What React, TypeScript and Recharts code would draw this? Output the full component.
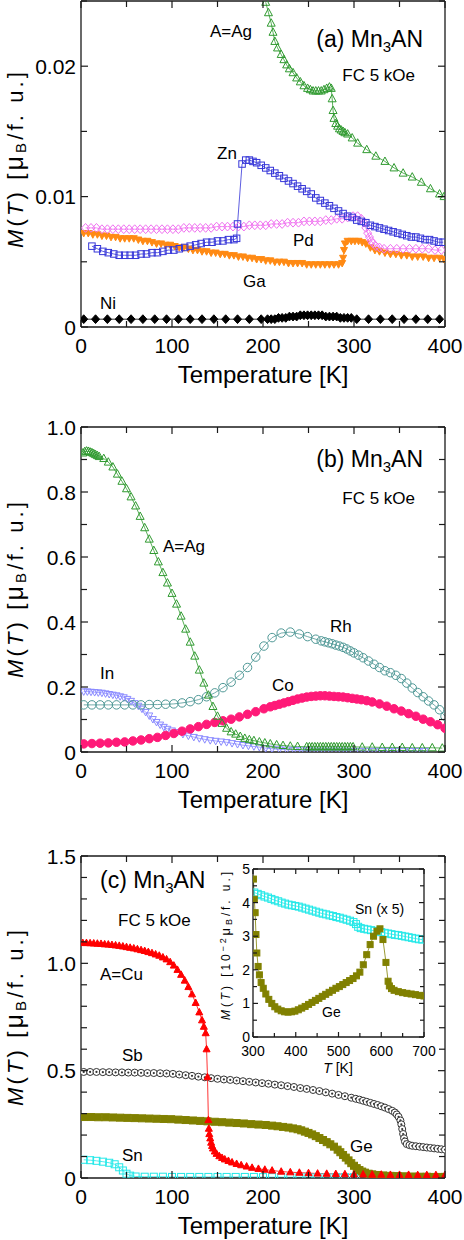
import React from "react";
import { LineChart, Line, XAxis, YAxis } from "recharts";

type Pt = [number, number];
type Shape =
  | "triUp" | "triUpFill" | "triDown" | "triDownFill" | "sq" | "sqFill"
  | "dia" | "diaFill" | "circ" | "circFill" | "circDot";

// ---------- panel (a): Mn3AN, FC 5 kOe, small moments
const agA: Pt[] = [
  [203, 0.0249], [206, 0.0241], [209, 0.0233], [211, 0.0226], [213, 0.0219], [216, 0.0214],
  [220, 0.0209], [223, 0.0205], [226, 0.0201], [229, 0.0198], [233, 0.0195], [237, 0.0191],
  [241, 0.0188], [245, 0.0185], [249, 0.0183], [252, 0.0182], [255, 0.0181], [258, 0.0181],
  [261, 0.0181], [264, 0.0181], [267, 0.0182], [270, 0.0183], [273, 0.0184], [275, 0.0183],
  [276, 0.0175], [277, 0.0166], [278, 0.016], [280, 0.0156], [282, 0.0154], [284, 0.0152],
  [286, 0.0151], [288, 0.015], [290, 0.0149], [293, 0.0148], [298, 0.0145], [304, 0.0141],
  [314, 0.0136], [324, 0.0131], [334, 0.0127], [344, 0.0122], [354, 0.0118], [364, 0.0115],
  [374, 0.0111], [384, 0.0106], [394, 0.0102], [399, 0.01],
];
const znA: Pt[] = [
  [12, 0.0062], [18, 0.006], [24, 0.0058], [30, 0.0057], [36, 0.0056], [42, 0.0055], [48, 0.0055],
  [54, 0.0055], [60, 0.0055], [66, 0.0056], [72, 0.0056], [78, 0.0057], [84, 0.0057], [90, 0.0058],
  [96, 0.0059], [102, 0.0059], [108, 0.006], [114, 0.0061], [120, 0.0062], [126, 0.0063],
  [132, 0.0064], [138, 0.0065], [144, 0.0065], [150, 0.0066], [156, 0.0066], [162, 0.0067],
  [168, 0.0067], [171, 0.0068], [172, 0.0079], [177, 0.0125], [181, 0.0128], [185, 0.0128],
  [189, 0.0127], [193, 0.0126], [198, 0.0124], [203, 0.0122], [208, 0.012], [213, 0.0118],
  [218, 0.0116], [223, 0.0114], [228, 0.0112], [233, 0.011], [238, 0.0108], [243, 0.0106],
  [248, 0.0104], [253, 0.0102], [258, 0.0099], [263, 0.0097], [268, 0.0095], [273, 0.0093],
  [278, 0.0091], [283, 0.0089], [288, 0.0087], [293, 0.0085], [298, 0.0084], [303, 0.0082],
  [308, 0.0081], [313, 0.008], [318, 0.0078], [323, 0.0077], [328, 0.0076], [333, 0.0075],
  [338, 0.0074], [343, 0.0073], [348, 0.0072], [353, 0.0071], [358, 0.007], [363, 0.0069],
  [368, 0.0069], [373, 0.0068], [378, 0.0067], [383, 0.0067], [388, 0.0066], [393, 0.0065],
  [398, 0.0065],
];
const pdA: Pt[] = [
  [5, 0.0076], [11, 0.0076], [17, 0.0076], [23, 0.0075], [29, 0.0075], [35, 0.0075], [41, 0.0075],
  [47, 0.0075], [53, 0.0075], [59, 0.0075], [65, 0.0075], [71, 0.0075], [77, 0.0075], [83, 0.0075],
  [89, 0.0075], [95, 0.0075], [101, 0.0075], [107, 0.0075], [113, 0.0076], [119, 0.0076],
  [125, 0.0076], [131, 0.0076], [137, 0.0076], [143, 0.0076], [149, 0.0077], [155, 0.0077],
  [161, 0.0077], [167, 0.0077], [173, 0.0077], [179, 0.0077], [185, 0.0078], [191, 0.0078],
  [197, 0.0078], [203, 0.0078], [209, 0.0079], [215, 0.0079], [221, 0.0079], [227, 0.008],
  [233, 0.008], [239, 0.008], [245, 0.0081], [251, 0.0081], [257, 0.0081], [263, 0.0081],
  [269, 0.0082], [275, 0.0082], [281, 0.0083], [287, 0.0083], [293, 0.0084], [299, 0.0085],
  [304, 0.0085], [308, 0.0083], [311, 0.008], [313, 0.0076], [315, 0.0072], [317, 0.0069],
  [319, 0.0066], [321, 0.0064], [324, 0.0062], [328, 0.0061], [333, 0.006], [340, 0.006],
  [347, 0.006], [354, 0.006], [361, 0.006], [368, 0.006], [375, 0.006], [382, 0.006],
  [389, 0.0059], [396, 0.0059],
];
const gaA: Pt[] = [
  [3, 0.0072], [8, 0.0072], [13, 0.0071], [18, 0.0071], [23, 0.007], [28, 0.007], [33, 0.0069],
  [38, 0.0069], [43, 0.0068], [48, 0.0068], [53, 0.0068], [58, 0.0068], [63, 0.0067], [68, 0.0066],
  [73, 0.0066], [78, 0.0065], [83, 0.0064], [88, 0.0064], [93, 0.0063], [98, 0.0063], [103, 0.0062],
  [108, 0.0061], [113, 0.0061], [118, 0.006], [123, 0.0059], [128, 0.0059], [133, 0.0058],
  [138, 0.0058], [143, 0.0057], [148, 0.0057], [153, 0.0056], [158, 0.0056], [163, 0.0055],
  [168, 0.0055], [173, 0.0054], [178, 0.0054], [183, 0.0053], [188, 0.0053], [193, 0.0052],
  [198, 0.0052], [203, 0.0051], [208, 0.0051], [213, 0.005], [218, 0.005], [223, 0.005],
  [228, 0.0049], [233, 0.0049], [238, 0.0049], [243, 0.0049], [248, 0.0048], [253, 0.0048],
  [258, 0.0048], [263, 0.0048], [268, 0.0048], [273, 0.0048], [278, 0.0048], [283, 0.0048],
  [287, 0.0049], [288, 0.0053], [289, 0.0059], [290, 0.0064], [293, 0.0066], [297, 0.0066],
  [301, 0.0066], [305, 0.0066], [309, 0.0065], [313, 0.0064], [318, 0.0061], [323, 0.0059],
  [328, 0.0058], [334, 0.0057], [340, 0.0056], [346, 0.0056], [352, 0.0055], [358, 0.0055],
  [364, 0.0054], [370, 0.0054], [376, 0.0054], [382, 0.0053], [388, 0.0053], [394, 0.0053],
  [399, 0.0052],
];
const niA: Pt[] = [
  [3, 0.0006], [16, 0.0006], [29, 0.0006], [42, 0.0006], [55, 0.0006], [68, 0.0006], [81, 0.0006],
  [94, 0.0006], [107, 0.0006], [120, 0.0006], [133, 0.0006], [146, 0.0006], [159, 0.0006],
  [172, 0.0006], [185, 0.0006], [198, 0.0006], [205, 0.0006], [209, 0.0006], [213, 0.0006],
  [217, 0.0007], [221, 0.0007], [225, 0.0007], [229, 0.0008], [233, 0.0008], [237, 0.0008],
  [241, 0.0009], [245, 0.0009], [249, 0.0009], [253, 0.0009], [257, 0.0009], [261, 0.0009],
  [265, 0.0009], [269, 0.0008], [273, 0.0008], [277, 0.0008], [281, 0.0008], [285, 0.0007],
  [289, 0.0007], [293, 0.0007], [297, 0.0007], [303, 0.0006], [316, 0.0006], [329, 0.0006],
  [342, 0.0006], [355, 0.0006], [368, 0.0006], [381, 0.0006], [394, 0.0006],
];

// ---------- panel (b)
const agB: Pt[] = [
  [2, 0.92], [4, 0.924], [6, 0.926], [8, 0.925], [10, 0.923], [12, 0.921], [14, 0.918], [16, 0.915],
  [18, 0.912], [20, 0.909], [25, 0.903], [30, 0.892], [35, 0.877], [40, 0.855], [45, 0.833],
  [50, 0.81], [55, 0.785], [60, 0.757], [65, 0.725], [70, 0.69], [75, 0.655], [80, 0.62], [85, 0.585],
  [90, 0.552], [95, 0.52], [100, 0.488], [105, 0.455], [110, 0.418], [115, 0.378], [120, 0.338],
  [125, 0.295], [130, 0.252], [135, 0.212], [140, 0.175], [145, 0.14], [150, 0.11], [155, 0.088],
  [160, 0.073], [165, 0.062], [170, 0.055], [175, 0.048], [180, 0.042], [185, 0.038], [190, 0.035],
  [196, 0.031], [202, 0.028], [208, 0.025], [215, 0.022], [222, 0.02], [230, 0.018], [238, 0.017],
  [248, 0.016], [251, 0.016], [254, 0.016], [257, 0.016], [260, 0.016], [263, 0.016], [266, 0.016],
  [269, 0.016], [272, 0.016], [275, 0.016], [278, 0.016], [281, 0.016], [284, 0.016], [287, 0.016],
  [290, 0.016], [293, 0.016], [296, 0.016], [299, 0.016], [309, 0.015], [320, 0.015], [331, 0.014],
  [342, 0.014], [353, 0.014], [364, 0.013], [375, 0.013], [386, 0.013], [397, 0.012],
];
const rhB: Pt[] = [
  [3, 0.145], [12, 0.145], [21, 0.145], [30, 0.145], [39, 0.145], [48, 0.145], [57, 0.145],
  [66, 0.145], [75, 0.146], [84, 0.146], [93, 0.147], [102, 0.148], [111, 0.151], [120, 0.155],
  [129, 0.161], [138, 0.17], [147, 0.182], [156, 0.198], [165, 0.215], [174, 0.236], [183, 0.26],
  [192, 0.292], [201, 0.326], [210, 0.352], [220, 0.366], [230, 0.369], [240, 0.363], [249, 0.355],
  [258, 0.347], [264, 0.342], [268, 0.339], [272, 0.336], [276, 0.333], [280, 0.329], [284, 0.326],
  [288, 0.322], [292, 0.317], [296, 0.311], [300, 0.305], [305, 0.298], [310, 0.29], [316, 0.28],
  [322, 0.27], [328, 0.26], [334, 0.25], [340, 0.244], [346, 0.236], [352, 0.226], [358, 0.212],
  [364, 0.197], [370, 0.183], [376, 0.17], [382, 0.157], [388, 0.145], [394, 0.13], [400, 0.11],
];
const coB: Pt[] = [
  [3, 0.025], [12, 0.026], [21, 0.027], [30, 0.028], [39, 0.03], [48, 0.031], [57, 0.034],
  [66, 0.037], [75, 0.041], [84, 0.045], [93, 0.051], [102, 0.057], [111, 0.064], [120, 0.071],
  [129, 0.078], [138, 0.085], [147, 0.091], [156, 0.096], [165, 0.101], [174, 0.108], [183, 0.116],
  [192, 0.124], [201, 0.133], [208, 0.139], [213, 0.143], [218, 0.147], [223, 0.151], [228, 0.155],
  [233, 0.159], [238, 0.163], [243, 0.166], [248, 0.169], [253, 0.171], [258, 0.172], [263, 0.173],
  [268, 0.173], [273, 0.172], [278, 0.171], [283, 0.17], [288, 0.169], [293, 0.167], [298, 0.165],
  [303, 0.163], [308, 0.161], [314, 0.158], [320, 0.154], [328, 0.148], [336, 0.141], [344, 0.133],
  [352, 0.126], [360, 0.118], [368, 0.11], [376, 0.101], [384, 0.093], [392, 0.084], [400, 0.073],
];
const inB: Pt[] = [
  [3, 0.186], [7, 0.186], [11, 0.185], [15, 0.184], [19, 0.183], [23, 0.182], [27, 0.18], [31, 0.178],
  [35, 0.176], [39, 0.174], [43, 0.171], [47, 0.168], [51, 0.163], [55, 0.157], [59, 0.15],
  [63, 0.142], [67, 0.133], [71, 0.123], [75, 0.112], [79, 0.101], [83, 0.092], [87, 0.084],
  [91, 0.077], [95, 0.071], [100, 0.066], [106, 0.061], [112, 0.055], [118, 0.05], [124, 0.046],
  [130, 0.042], [136, 0.039], [142, 0.036], [148, 0.034], [154, 0.032], [160, 0.03], [166, 0.027],
  [172, 0.024], [178, 0.021], [184, 0.019], [190, 0.017], [196, 0.015], [203, 0.012], [210, 0.01],
  [218, 0.008], [226, 0.007], [234, 0.006], [242, 0.005], [250, 0.005], [258, 0.004], [266, 0.004],
  [274, 0.004], [282, 0.004], [290, 0.004], [298, 0.003], [306, 0.003], [314, 0.003], [322, 0.003],
  [330, 0.003], [338, 0.003], [346, 0.003], [354, 0.003], [362, 0.003], [370, 0.003], [378, 0.003],
];

// ---------- panel (c)
const cuC: Pt[] = [
  [2, 1.095], [6, 1.095], [10, 1.094], [14, 1.093], [18, 1.092], [22, 1.091], [26, 1.089], [30, 1.088],
  [34, 1.086], [38, 1.084], [42, 1.082], [46, 1.079], [50, 1.076], [54, 1.073], [58, 1.07], [62, 1.066],
  [66, 1.062], [70, 1.058], [74, 1.053], [78, 1.048], [82, 1.042], [86, 1.036], [90, 1.028],
  [94, 1.019], [98, 1.006], [102, 0.99], [106, 0.97], [110, 0.947], [114, 0.92], [118, 0.89],
  [122, 0.856], [126, 0.816], [130, 0.772], [133, 0.735], [135, 0.705], [137, 0.675], [138, 0.6],
  [139, 0.47], [140, 0.27], [140.5, 0.23], [141, 0.205], [142, 0.185], [143, 0.165], [144, 0.15],
  [145, 0.138], [147, 0.124], [149, 0.113], [152, 0.102], [155, 0.094], [158, 0.087], [162, 0.08],
  [166, 0.073], [171, 0.066], [176, 0.06], [182, 0.054], [188, 0.048], [195, 0.043], [202, 0.039],
  [210, 0.035], [220, 0.03], [230, 0.027], [240, 0.025], [250, 0.023], [260, 0.021], [270, 0.02],
  [280, 0.019], [290, 0.018], [300, 0.017], [310, 0.017], [320, 0.016], [330, 0.016], [340, 0.015],
  [350, 0.015], [360, 0.015], [370, 0.014], [380, 0.014], [390, 0.014], [400, 0.014],
];
const sbC: Pt[] = [
  [3, 0.494], [10, 0.494], [17, 0.494], [24, 0.493], [31, 0.493], [38, 0.492], [45, 0.492],
  [52, 0.491], [59, 0.491], [66, 0.49], [73, 0.489], [80, 0.489], [87, 0.488], [94, 0.487],
  [101, 0.485], [108, 0.482], [115, 0.479], [122, 0.476], [129, 0.472], [136, 0.469], [143, 0.465],
  [150, 0.462], [157, 0.459], [164, 0.457], [171, 0.454], [178, 0.451], [185, 0.448], [192, 0.445],
  [199, 0.442], [206, 0.439], [213, 0.435], [220, 0.432], [227, 0.428], [234, 0.424], [241, 0.419],
  [248, 0.415], [255, 0.41], [262, 0.405], [269, 0.399], [276, 0.393], [283, 0.387], [290, 0.381],
  [297, 0.374], [302, 0.369], [306, 0.365], [310, 0.36], [314, 0.355], [318, 0.35], [322, 0.345],
  [326, 0.34], [330, 0.334], [334, 0.328], [338, 0.321], [342, 0.313], [345, 0.305], [347, 0.296],
  [349, 0.285], [351, 0.268], [352, 0.25], [353, 0.228], [354, 0.205], [355, 0.185], [356, 0.17],
  [358, 0.158], [361, 0.153], [364, 0.15], [368, 0.148], [372, 0.146], [376, 0.144], [380, 0.142],
  [384, 0.14], [388, 0.138], [392, 0.136], [396, 0.134], [400, 0.132],
];
const geC: Pt[] = [
  [3, 0.284], [11, 0.284], [19, 0.283], [27, 0.283], [35, 0.282], [43, 0.281], [51, 0.28], [59, 0.279],
  [67, 0.278], [75, 0.277], [83, 0.276], [91, 0.275], [99, 0.274], [107, 0.272], [115, 0.27],
  [123, 0.268], [131, 0.266], [139, 0.264], [147, 0.262], [155, 0.26], [163, 0.258], [171, 0.256],
  [179, 0.254], [187, 0.251], [195, 0.249], [203, 0.247], [210, 0.244], [216, 0.241], [222, 0.238],
  [228, 0.235], [233, 0.231], [238, 0.227], [242, 0.222], [246, 0.216], [250, 0.21], [254, 0.203],
  [258, 0.195], [262, 0.186], [266, 0.177], [270, 0.167], [274, 0.157], [278, 0.146], [282, 0.132],
  [285, 0.12], [288, 0.107], [291, 0.095], [294, 0.082], [297, 0.069], [300, 0.057], [303, 0.046],
  [306, 0.037], [309, 0.03], [312, 0.025], [316, 0.02], [320, 0.017], [326, 0.014], [332, 0.012],
  [340, 0.01], [348, 0.009], [356, 0.008], [364, 0.007], [372, 0.006], [380, 0.006], [388, 0.005],
  [396, 0.005], [400, 0.005],
];
const snC: Pt[] = [
  [3, 0.085], [10, 0.083], [17, 0.08], [24, 0.076], [31, 0.071], [37, 0.064], [42, 0.05], [46, 0.035],
  [50, 0.02], [54, 0.011], [60, 0.007], [70, 0.006], [80, 0.006], [90, 0.006], [100, 0.005],
  [110, 0.005], [120, 0.005], [130, 0.005], [140, 0.005], [150, 0.005], [160, 0.005], [170, 0.005],
  [180, 0.005], [190, 0.005], [200, 0.004], [210, 0.004], [220, 0.004], [230, 0.004], [240, 0.004],
  [250, 0.004], [260, 0.004], [270, 0.004], [280, 0.004], [290, 0.004], [300, 0.004], [310, 0.004],
  [320, 0.004], [330, 0.004], [340, 0.004], [350, 0.004], [360, 0.004], [370, 0.004], [380, 0.004],
  [390, 0.004], [400, 0.004],
];

// ---------- inset of (c): high temperature, units 10^-2 muB/f.u.
const geInset: Pt[] = [
  [301, 4.7], [303, 4.1], [305, 3.7], [307, 3.05], [309, 2.5], [312, 2.1], [315, 1.85], [319, 1.62],
  [324, 1.45], [330, 1.28], [337, 1.12], [344, 1.0], [351, 0.9], [358, 0.83], [366, 0.78], [374, 0.75],
  [382, 0.74], [390, 0.75], [398, 0.77], [406, 0.81], [414, 0.86], [422, 0.91], [430, 0.97],
  [438, 1.03], [446, 1.09], [454, 1.15], [462, 1.21], [470, 1.27], [478, 1.33], [486, 1.39],
  [494, 1.45], [502, 1.5], [510, 1.56], [518, 1.62], [526, 1.68], [534, 1.74], [542, 1.82],
  [550, 1.93], [558, 2.15], [566, 2.45], [574, 2.75], [582, 3.0], [590, 3.15], [597, 3.22],
  [604, 2.9], [611, 2.22], [616, 1.66], [619, 1.52], [624, 1.44], [630, 1.39], [640, 1.35],
  [650, 1.32], [660, 1.3], [670, 1.28], [680, 1.26], [690, 1.24], [700, 1.22],
];
const snInset: Pt[] = [
  [303, 4.3], [311, 4.26], [319, 4.22], [327, 4.18], [335, 4.15], [343, 4.11], [351, 4.07], [359, 4.04],
  [367, 4.0], [375, 3.97], [383, 3.94], [391, 3.92], [399, 3.9], [407, 3.88], [415, 3.85], [423, 3.82],
  [431, 3.79], [439, 3.76], [447, 3.73], [455, 3.7], [463, 3.67], [471, 3.65], [479, 3.62],
  [487, 3.6], [495, 3.57], [503, 3.55], [511, 3.52], [519, 3.49], [527, 3.46], [535, 3.42],
  [541, 3.36], [546, 3.28], [552, 3.24], [560, 3.22], [568, 3.2], [576, 3.18], [584, 3.16],
  [592, 3.14], [600, 3.12], [608, 3.1], [616, 3.08], [624, 3.06], [632, 3.04], [640, 3.03],
  [648, 3.01], [656, 2.99], [664, 2.97], [672, 2.95], [680, 2.93], [688, 2.91], [696, 2.9],
];

// ---------- ticks
const xTicksMain = [0, 50, 100, 150, 200, 250, 300, 350, 400];
const xMajorMain = [0, 100, 200, 300, 400];
const yTicksA = [0, 0.005, 0.01, 0.015, 0.02, 0.025];
const yMajorA = [0, 0.01, 0.02];
const yTicksB = [0, 0.1, 0.2, 0.3, 0.4, 0.5, 0.6, 0.7, 0.8, 0.9, 1.0];
const yMajorB = [0, 0.2, 0.4, 0.6, 0.8, 1.0];
const yTicksC = [0, 0.1, 0.2, 0.3, 0.4, 0.5, 0.6, 0.7, 0.8, 0.9, 1.0, 1.1, 1.2, 1.3, 1.4, 1.5];
const yMajorC = [0, 0.5, 1.0, 1.5];
const xTicksInset = [300, 350, 400, 450, 500, 550, 600, 650, 700];
const xMajorInset = [300, 400, 500, 600, 700];
const yTicksInset = [0, 0.5, 1, 1.5, 2, 2.5, 3, 3.5, 4, 4.5, 5];
const yMajorInset = [0, 1, 2, 3, 4, 5];

const FONT = "'Liberation Sans', Arial, Helvetica, sans-serif";
const AX = "#1a1a1a";

type Series = { id: string; pts: Pt[]; color: string; shape: Shape; size: number };

function Marker({ cx, cy, shape, color, size }: { cx?: number; cy?: number; shape: Shape; color: string; size: number }) {
  if (cx == null || cy == null || isNaN(cx) || isNaN(cy)) return null;
  const h = size / 2;
  const sw = 1;
  switch (shape) {
    case "triUp":
    case "triUpFill": {
      const pts = `${cx},${cy - h * 1.1} ${cx - h},${cy + h * 0.75} ${cx + h},${cy + h * 0.75}`;
      return <polygon points={pts} fill={shape === "triUpFill" ? color : "none"} stroke={color} strokeWidth={sw} />;
    }
    case "triDown":
    case "triDownFill": {
      const pts = `${cx},${cy + h * 1.1} ${cx - h},${cy - h * 0.75} ${cx + h},${cy - h * 0.75}`;
      return <polygon points={pts} fill={shape === "triDownFill" ? color : "none"} stroke={color} strokeWidth={sw} />;
    }
    case "sq":
    case "sqFill":
      return <rect x={cx - h} y={cy - h} width={size} height={size} fill={shape === "sqFill" ? color : "none"} stroke={color} strokeWidth={sw} />;
    case "dia":
    case "diaFill": {
      const pts = `${cx},${cy - h * 1.1} ${cx + h},${cy} ${cx},${cy + h * 1.1} ${cx - h},${cy}`;
      return <polygon points={pts} fill={shape === "diaFill" ? color : "none"} stroke={color} strokeWidth={sw} />;
    }
    case "circ":
    case "circFill":
      return <circle cx={cx} cy={cy} r={h} fill={shape === "circFill" ? color : "none"} stroke={color} strokeWidth={sw} />;
    case "circDot":
      return (
        <g>
          <circle cx={cx} cy={cy} r={h} fill="#fff" stroke={color} strokeWidth={sw} />
          <circle cx={cx} cy={cy} r={1.1} fill={color} />
        </g>
      );
  }
  return null;
}

type Side = "bottom" | "top" | "left" | "right";

function makeTick(side: Side, majors: number[], len: number, fmt: (v: number) => string, fs: number, off: number) {
  return (p: any) => {
    const { x, y, payload } = p;
    const v = payload.value as number;
    const major = majors.some((m) => Math.abs(m - v) < 1e-9);
    const L = major ? len : len - 1;
    let line: React.ReactNode = null;
    let label: React.ReactNode = null;
    if (side === "bottom") {
      line = <line x1={x} y1={y} x2={x} y2={y - L} stroke={AX} strokeWidth={1.2} />;
      if (major) label = <text x={x} y={y + off} textAnchor="middle" fontSize={fs} fill="#000" fontFamily={FONT}>{fmt(v)}</text>;
    } else if (side === "top") {
      line = <line x1={x} y1={y} x2={x} y2={y + L} stroke={AX} strokeWidth={1.2} />;
    } else if (side === "left") {
      line = <line x1={x} y1={y} x2={x + L} y2={y} stroke={AX} strokeWidth={1.2} />;
      if (major) label = <text x={x - off} y={y + fs * 0.36} textAnchor="end" fontSize={fs} fill="#000" fontFamily={FONT}>{fmt(v)}</text>;
    } else {
      line = <line x1={x} y1={y} x2={x - L} y2={y} stroke={AX} strokeWidth={1.2} />;
    }
    return <g>{line}{label}</g>;
  };
}

function Panel(props: {
  left: number; top: number; width: number; height: number;
  margin: { top: number; right: number; bottom: number; left: number };
  xDomain: [number, number]; xTicks: number[]; xMajor: number[];
  yDomain: [number, number]; yTicks: number[]; yMajor: number[];
  yFmt: (v: number) => string;
  series: Series[];
  fs: number; len: number; xOff: number; yOff: number;
}) {
  const { left, top, width, height, margin, xDomain, xTicks, xMajor, yDomain, yTicks, yMajor, yFmt, series, fs, len, xOff, yOff } = props;
  const axisLine = { stroke: AX, strokeWidth: 1.3 };
  const xFmt = (v: number) => String(v);
  // axes get 1px of room each (recharts skips a zero-sized axis), margins are 1 less
  return (
    <div style={{ position: "absolute", left, top, width, height }}>
      <LineChart width={width} height={height} margin={margin}>
        <XAxis xAxisId="b" type="number" dataKey="t" domain={xDomain} ticks={xTicks} interval={0}
          allowDataOverflow orientation="bottom" height={1} tickSize={0} tickMargin={0}
          tickLine={false} axisLine={axisLine} tick={makeTick("bottom", xMajor, len, xFmt, fs, xOff)} />
        <XAxis xAxisId="t" type="number" dataKey="t" domain={xDomain} ticks={xTicks} interval={0}
          allowDataOverflow orientation="top" height={1} tickSize={0} tickMargin={0}
          tickLine={false} axisLine={axisLine} tick={makeTick("top", xMajor, len, xFmt, fs, xOff)} />
        <YAxis yAxisId="l" type="number" domain={yDomain} ticks={yTicks} interval={0}
          allowDataOverflow orientation="left" width={1} tickSize={0} tickMargin={0}
          tickLine={false} axisLine={axisLine} tick={makeTick("left", yMajor, len, yFmt, fs, yOff)} />
        <YAxis yAxisId="r" type="number" domain={yDomain} ticks={yTicks} interval={0}
          allowDataOverflow orientation="right" width={1} tickSize={0} tickMargin={0}
          tickLine={false} axisLine={axisLine} tick={makeTick("right", yMajor, len, yFmt, fs, yOff)} />
        {series.map((s) => (
          <Line
            key={s.id}
            xAxisId="b"
            yAxisId="l"
            type="linear"
            data={s.pts.map(([t, m]) => ({ t, m }))}
            dataKey="m"
            stroke={s.color}
            strokeWidth={0.8}
            isAnimationActive={false}
            activeDot={false}
            dot={(p: any) => (
              <Marker key={`${s.id}-${p.index}`} cx={p.cx} cy={p.cy} shape={s.shape} color={s.color} size={s.size} />
            )}
          />
        ))}
      </LineChart>
    </div>
  );
}

function Mn3AN({ x, y, tag, anchor }: { x: number; y: number; tag: string; anchor: "start" | "end" }) {
  return (
    <text x={x} y={y} fontSize={23} textAnchor={anchor}>
      {tag} Mn<tspan dy={5} fontSize={15}>3</tspan><tspan dy={-5}>AN</tspan>
    </text>
  );
}

function YTitle({ x, y }: { x: number; y: number }) {
  return (
    <text transform={`translate(${x},${y}) rotate(-90)`} textAnchor="middle" fontSize={22} textLength={176} lengthAdjust="spacing">
      <tspan fontStyle="italic">M</tspan>(<tspan fontStyle="italic">T</tspan>) [<tspan fontSize={25}>μ</tspan>
      <tspan fontSize={15} dy={3}>B</tspan><tspan dy={-3}>/f. u.]</tspan>
    </text>
  );
}

const fmtA = (v: number) => (v === 0 ? "0" : v.toFixed(2));
const fmt1 = (v: number) => (v === 0 ? "0" : v.toFixed(1));
const fmt0 = (v: number) => String(v);

export default function App() {
  const panelA: Series[] = [
    { id: "Ni", pts: niA, color: "#000000", shape: "diaFill", size: 8 },
    { id: "Ga", pts: gaA, color: "#ff8a14", shape: "triDownFill", size: 7 },
    { id: "Pd", pts: pdA, color: "#f070f0", shape: "dia", size: 8 },
    { id: "Zn", pts: znA, color: "#3535d8", shape: "sq", size: 6.5 },
    { id: "Ag", pts: agA, color: "#2f9a2f", shape: "triUp", size: 8 },
  ];
  const panelB: Series[] = [
    { id: "In", pts: inB, color: "#8a8aff", shape: "triDown", size: 7 },
    { id: "Co", pts: coB, color: "#ff1a78", shape: "circFill", size: 8.5 },
    { id: "Rh", pts: rhB, color: "#4f9896", shape: "circ", size: 8.5 },
    { id: "Ag", pts: agB, color: "#2f9a2f", shape: "triUp", size: 8 },
  ];
  const panelC: Series[] = [
    { id: "Sn", pts: snC, color: "#22e8e8", shape: "sq", size: 7 },
    { id: "Ge", pts: geC, color: "#808000", shape: "sqFill", size: 7 },
    { id: "Sb", pts: sbC, color: "#333333", shape: "circDot", size: 7 },
    { id: "Cu", pts: cuC, color: "#ff0000", shape: "triUpFill", size: 7 },
  ];
  const inset: Series[] = [
    { id: "SnI", pts: snInset, color: "#22e8e8", shape: "sq", size: 7 },
    { id: "GeI", pts: geInset, color: "#808000", shape: "sqFill", size: 6 },
  ];

  return (
    <div style={{ position: "absolute", left: 0, top: 0, width: 464, height: 1240, background: "#fff", fontFamily: FONT, overflow: "hidden" }}>
      <Panel left={0} top={0} width={464} height={400} margin={{ top: 0, right: 18, bottom: 72, left: 80 }}
        xDomain={[0, 400]} xTicks={xTicksMain} xMajor={xMajorMain}
        yDomain={[0, 0.025]} yTicks={yTicksA} yMajor={yMajorA} yFmt={fmtA}
        series={panelA} fs={21} len={7} xOff={26} yOff={5} />
      <Panel left={0} top={400} width={464} height={420} margin={{ top: 26, right: 18, bottom: 67, left: 80 }}
        xDomain={[0, 400]} xTicks={xTicksMain} xMajor={xMajorMain}
        yDomain={[0, 1]} yTicks={yTicksB} yMajor={yMajorB} yFmt={fmt1}
        series={panelB} fs={21} len={7} xOff={26} yOff={5} />
      <Panel left={0} top={820} width={464} height={420} margin={{ top: 35, right: 18, bottom: 61, left: 80 }}
        xDomain={[0, 400]} xTicks={xTicksMain} xMajor={xMajorMain}
        yDomain={[0, 1.5]} yTicks={yTicksC} yMajor={yMajorC} yFmt={fmt1}
        series={panelC} fs={21} len={7} xOff={26} yOff={5} />
      <div style={{ position: "absolute", left: 253, top: 869, width: 171, height: 168, background: "#fff" }} />
      <Panel left={200} top={860} width={240} height={230} margin={{ top: 8, right: 15, bottom: 52, left: 52 }}
        xDomain={[300, 700]} xTicks={xTicksInset} xMajor={xMajorInset}
        yDomain={[0, 5]} yTicks={yTicksInset} yMajor={yMajorInset} yFmt={fmt0}
        series={inset} fs={14} len={5} xOff={19} yOff={3} />

      <svg width={464} height={1240} style={{ position: "absolute", left: 0, top: 0, pointerEvents: "none" }} fontFamily={FONT} fill="#000">
        {/* panel (a) */}
        <text x={210} y={37} fontSize={17}>A=Ag</text>
        <Mn3AN x={423} y={47} tag="(a)" anchor="end" />
        <text x={415} y={81} fontSize={17} textAnchor="end">FC 5 kOe</text>
        <text x={217} y={159} fontSize={17}>Zn</text>
        <text x={293} y={246} fontSize={17}>Pd</text>
        <text x={243} y={287} fontSize={17}>Ga</text>
        <text x={100} y={309} fontSize={17}>Ni</text>
        <text x={263} y={383} fontSize={24} textAnchor="middle">Temperature [K]</text>
        <YTitle x={23} y={160} />

        {/* panel (b) */}
        <Mn3AN x={423} y={467} tag="(b)" anchor="end" />
        <text x={415} y={504} fontSize={17} textAnchor="end">FC 5 kOe</text>
        <text x={163} y={552} fontSize={17}>A=Ag</text>
        <text x={330} y={632} fontSize={17}>Rh</text>
        <text x={100} y={679} fontSize={17}>In</text>
        <text x={272} y={691} fontSize={17}>Co</text>
        <text x={263} y={808} fontSize={24} textAnchor="middle">Temperature [K]</text>
        <YTitle x={23} y={590} />

        {/* panel (c) */}
        <Mn3AN x={100} y={888} tag="(c)" anchor="start" />
        <text x={118} y={926} fontSize={17}>FC 5 kOe</text>
        <text x={100} y={980} fontSize={17}>A=Cu</text>
        <text x={122} y={1061} fontSize={17}>Sb</text>
        <text x={122} y={1161} fontSize={17}>Sn</text>
        <text x={350} y={1152} fontSize={17}>Ge</text>
        <text x={263} y={1234} fontSize={24} textAnchor="middle">Temperature [K]</text>
        <YTitle x={23} y={1018} />

        {/* inset */}
        <text x={355} y={914} fontSize={14}>Sn<tspan dx={4}>(x 5)</tspan></text>
        <text x={322} y={1017} fontSize={14}>Ge</text>
        <text x={338} y={1073} fontSize={14} textAnchor="middle"><tspan fontStyle="italic">T</tspan> [K]</text>
        <text transform="translate(230,946) rotate(-90)" textAnchor="middle" fontSize={12} textLength={148} lengthAdjust="spacing">
          <tspan fontStyle="italic">M</tspan>(<tspan fontStyle="italic">T</tspan>) [10<tspan fontSize={9} dy={-4}>−2</tspan>
          <tspan dy={4} fontSize={13}>μ</tspan><tspan fontSize={9} dy={2}>B</tspan><tspan dy={-2}>/f. u.]</tspan>
        </text>
      </svg>
    </div>
  );
}
